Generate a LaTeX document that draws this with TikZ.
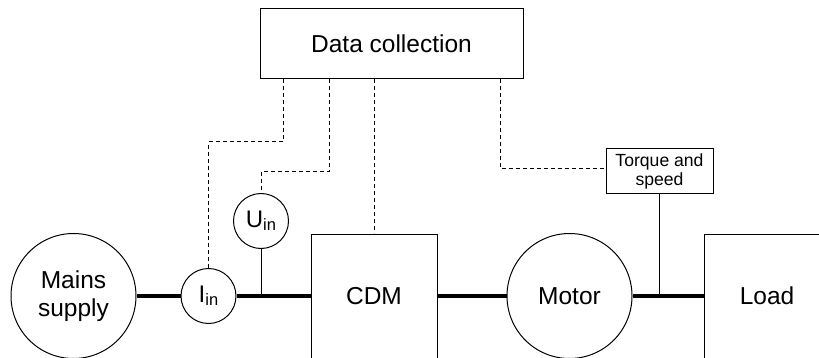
\documentclass[tikz,border=0pt]{standalone}
\usepackage{fontspec}
\setmainfont{Liberation Sans}
\usetikzlibrary{calc}

\newcommand{\sub}[1]{\raisebox{-3pt}{\fontsize{16.5}{16.5}\selectfont #1}}

\begin{document}
\begin{tikzpicture}[x=1pt,y=-1pt,
  thin line/.style={line width=1pt, draw=black},
  wire/.style={line width=3.4pt, draw=black},
  signal/.style={line width=1pt, draw=black, dash pattern=on 4pt off 3pt},
  big text/.style={font=\fontsize{24.5}{28}\selectfont},
  block/.style={thin line, rectangle, inner sep=0pt, big text},
  unit/.style={thin line, circle, inner sep=0pt, minimum size=125pt, align=center, big text},
  probe/.style={thin line, circle, inner sep=0pt, minimum size=55pt, font=\fontsize{24}{28}\selectfont},
  sensor/.style={thin line, rectangle, inner sep=0pt, minimum width=107pt, minimum height=45pt,
    align=center, font=\fontsize{17.6}{19.5}\selectfont}]

\useasboundingbox (0,0) rectangle (819,358);
\clip (0,0) rectangle (819,358);

% acquisition unit
\node[block, minimum width=263pt, minimum height=70pt] (dc) at (391.5,44) {Data collection};

% power path
\node[unit] (mains) at (73.5,296) {Mains\\supply};
\node[probe] (iin) at (208.5,296) {I\sub{in}};
\node[probe] (uin) at (261,221) {U\sub{in}};
\node[block, minimum width=126pt, minimum height=124pt] (cdm) at (374,296) {CDM};
\node[unit] (motor) at (569.5,296) {Motor};
\node[block, minimum width=126pt, minimum height=124pt] (load) at (767,296) {Load};
\node[sensor] (torque) at (659.5,171.5) {Torque and\\speed};

% taps onto the lines
\coordinate (ujunc) at (uin.south |- mains.east);
\coordinate (tjunc) at (torque.south |- motor.east);
\draw[thin line] (uin.south) -- (ujunc);
\draw[thin line] (torque.south) -- (tjunc);

% power connections
\draw[wire] (mains.east) -- (iin.west);
\draw[wire] (iin.east) -- (cdm.west);
\draw[wire] (cdm.east) -- (motor.west);
\draw[wire] (motor.east) -- (load.west);

% measurement signals
\draw[signal] (dc.south -| 283,0) -- (283,142) -| (iin.north);
\draw[signal] (dc.south -| 329,0) -- (329,172) -| (uin.north);
\draw[signal] (dc.south -| cdm.north) -- (cdm.north);
\draw[signal] (dc.south -| 500,0) |- ([yshift=2.5pt]torque.west);

\end{tikzpicture}
\end{document}
